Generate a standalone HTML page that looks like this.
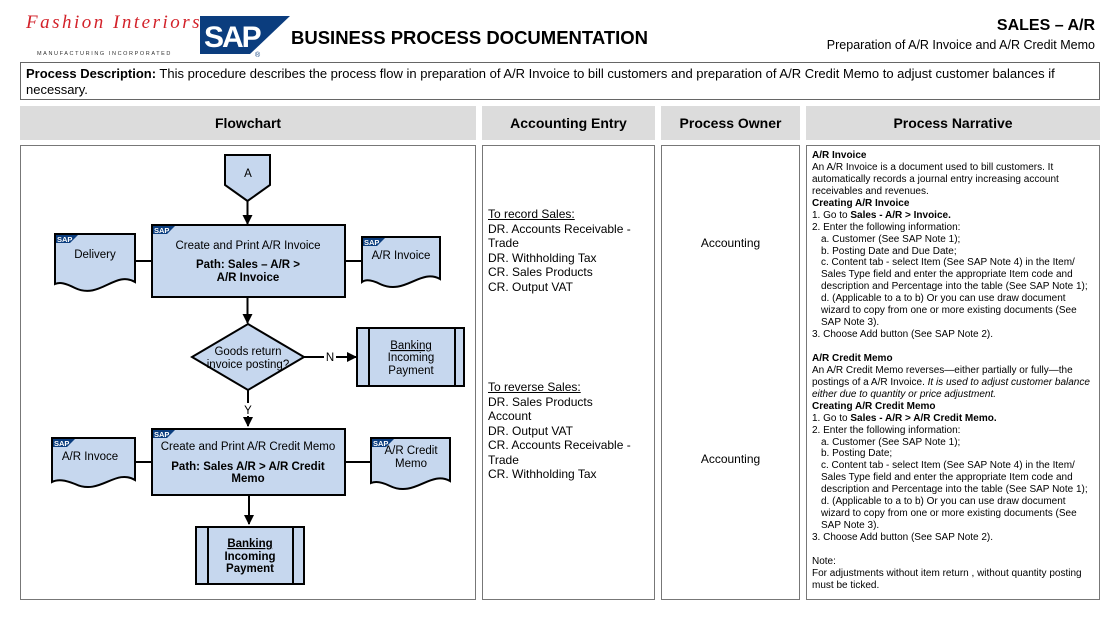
<!DOCTYPE html>
<html><head><meta charset="utf-8"><style>
body{margin:0;width:1114px;height:620px;background:#fff;position:relative;font-family:"Liberation Sans",sans-serif;overflow:hidden}
.a{position:absolute}
.hd{position:absolute;top:106px;height:34px;background:#dcdcdc;font-weight:bold;font-size:14px;text-align:center;line-height:34px;color:#000}
.bx{position:absolute;top:145px;height:455px;border:1.5px solid #777;box-sizing:border-box}
.ae{position:absolute;left:488px;font-size:12px;line-height:14.5px;white-space:nowrap}
.nr{position:absolute;left:812px;font-size:10px;line-height:11.93px;white-space:nowrap}
.nr .i{padding-left:9px}
</style></head><body>
<div class="a" style="left:26px;top:12px;width:165px;white-space:nowrap;font-family:'Liberation Serif',serif;font-style:italic;color:#d3222a;font-size:19px;letter-spacing:2.5px">Fashion Interiors</div>
<div class="a" style="left:37px;top:51px;font-size:5.5px;letter-spacing:1.6px;color:#333">MANUFACTURING INCORPORATED</div>
<svg class="a" style="left:200px;top:16px" width="92" height="42"><polygon points="0,0 90,0 50,38 0,38" fill="#0b3d7e"/><text x="4" y="31" font-family="Liberation Sans" font-weight="bold" font-size="30" fill="#fff" letter-spacing="-2">SAP</text><text x="55" y="41" font-size="7" fill="#0b3d7e">®</text></svg>
<div class="a" style="left:291px;top:27px;font-size:18.5px;font-weight:bold">BUSINESS PROCESS DOCUMENTATION</div>
<div class="a" style="right:19px;top:17px;font-size:16px;font-weight:bold">SALES – A/R</div>
<div class="a" style="right:19px;top:38px;font-size:12.5px">Preparation of A/R Invoice and A/R Credit Memo</div>
<div class="a" style="left:20px;top:62px;width:1080px;height:38px;border:1.5px solid #666;box-sizing:border-box;font-size:13px;line-height:16px;padding:3px 5px"><b>Process Description:</b> This procedure describes the process flow in preparation of A/R Invoice to bill customers and preparation of A/R Credit Memo to adjust customer balances if necessary.</div>
<div class="hd" style="left:20px;width:456px">Flowchart</div>
<div class="hd" style="left:482px;width:173px">Accounting Entry</div>
<div class="hd" style="left:661px;width:139px">Process Owner</div>
<div class="hd" style="left:806px;width:294px">Process Narrative</div>
<div class="bx" style="left:20px;width:456px"></div>
<div class="bx" style="left:482px;width:173px"></div>
<div class="bx" style="left:661px;width:139px"></div>
<div class="bx" style="left:806px;width:294px"></div>

<svg class="a" style="left:0;top:0" width="480" height="610" font-family="Liberation Sans">
<defs><marker id="ar" markerWidth="10" markerHeight="10" refX="9" refY="5" orient="auto" markerUnits="userSpaceOnUse"><path d="M0,0 L10,5 L0,10Z" fill="#000"/></marker>
<g id="sap"><polygon points="0,0 22,0 14,8 0,8" fill="#0b3d7e"/><text x="1" y="7" font-size="7.5" font-weight="bold" fill="#fff">SAP</text></g></defs>
<g stroke="#000" stroke-width="2" fill="#c6d7ee">
<polygon points="225,155 270,155 270,185 247.5,201 225,185"/>
<line x1="247.5" y1="201" x2="247.5" y2="224" marker-end="url(#ar)" fill="none"/>
<line x1="135" y1="261" x2="152" y2="261"/><line x1="345" y1="261" x2="362" y2="261"/>
<rect x="152" y="225" width="193" height="72"/>
<path d="M55,234 H135 V282 C115,270 100,300 75,288 C65,283 60,282 55,284 Z"/>
<path d="M362,237 H440 V279 C420,268 405,296 380,284 C372,280 366,279 362,282 Z"/>
<line x1="247.5" y1="297" x2="247.5" y2="323" marker-end="url(#ar)" fill="none"/>
<polygon points="248,324 304,357 248,390 192,357"/>
<line x1="304" y1="357" x2="324" y2="357" fill="none"/>
<line x1="336" y1="357" x2="356" y2="357" marker-end="url(#ar)" fill="none"/>
<rect x="357" y="328" width="107" height="58"/><line x1="369" y1="328" x2="369" y2="386"/><line x1="455" y1="328" x2="455" y2="386"/>
<line x1="248" y1="390" x2="248" y2="403" fill="none"/>
<line x1="248" y1="416" x2="248" y2="426" marker-end="url(#ar)" fill="none"/>
<line x1="135" y1="462" x2="152" y2="462"/><line x1="345" y1="462" x2="370" y2="462"/>
<rect x="152" y="429" width="193" height="66"/>
<path d="M52,438 H135 V480 C115,468 100,496 75,484 C65,480 58,479 52,482 Z"/>
<path d="M371,438 H450 V481 C430,470 415,498 390,486 C382,482 376,481 371,483 Z"/>
<line x1="249" y1="495" x2="249" y2="524" marker-end="url(#ar)" fill="none"/>
<rect x="196" y="527" width="108" height="57"/><line x1="208" y1="527" x2="208" y2="584"/><line x1="293" y1="527" x2="293" y2="584"/>
</g>
<use href="#sap" x="153" y="226"/><use href="#sap" x="56" y="235"/><use href="#sap" x="363" y="238"/>
<use href="#sap" x="153" y="430"/><use href="#sap" x="53" y="439"/><use href="#sap" x="372" y="439"/>
<g font-size="11.5" text-anchor="middle" fill="#000">
<text x="248" y="177">A</text>
<text x="248" y="249">Create and Print A/R Invoice</text>
<text x="248" y="268" font-weight="bold">Path: Sales – A/R &gt;</text>
<text x="248" y="281" font-weight="bold">A/R Invoice</text>
<text x="95" y="258">Delivery</text>
<text x="401" y="259">A/R Invoice</text>
<text x="248" y="355">Goods return</text>
<text x="248" y="368">invoice posting?</text>
<text x="330" y="361">N</text>
<text x="411" y="349" text-decoration="underline">Banking</text>
<text x="411" y="361">Incoming</text>
<text x="411" y="374">Payment</text>
<text x="248" y="414">Y</text>
<text x="248" y="450">Create and Print A/R Credit Memo</text>
<text x="248" y="470" font-weight="bold">Path: Sales A/R &gt; A/R Credit</text>
<text x="248" y="482" font-weight="bold">Memo</text>
<text x="90" y="460">A/R Invoce</text>
<text x="411" y="454">A/R Credit</text>
<text x="411" y="467">Memo</text>
<text x="250" y="547" font-weight="bold" text-decoration="underline">Banking</text>
<text x="250" y="560" font-weight="bold">Incoming</text>
<text x="250" y="572" font-weight="bold">Payment</text>
</g>
</svg>

<div class="ae" style="top:207px"><u>To record Sales:</u><br>DR. Accounts Receivable -<br>Trade<br>DR. Withholding Tax<br>CR. Sales Products<br>CR. Output VAT</div>
<div class="ae" style="top:380px"><u>To reverse Sales:</u><br>DR. Sales Products<br>Account<br>DR. Output VAT<br>CR. Accounts Receivable -<br>Trade<br>CR. Withholding Tax</div>
<div class="a" style="left:661px;width:139px;text-align:center;top:236px;font-size:12px">Accounting</div>
<div class="a" style="left:661px;width:139px;text-align:center;top:452px;font-size:12px">Accounting</div>

<div class="nr" style="top:150px"><b>A/R Invoice</b><br>An A/R Invoice is a document used to bill customers. It<br>automatically records a journal entry increasing account<br>receivables and revenues.<br><b>Creating A/R Invoice</b><br>1. Go to <b>Sales - A/R &gt; Invoice.</b><br>2. Enter the following information:<br><span class="i">a. Customer (See SAP Note 1);</span><br><span class="i">b. Posting Date and Due Date;</span><br><span class="i">c. Content tab - select Item (See SAP Note 4) in the Item/</span><br><span class="i">Sales Type field and enter the appropriate Item code and</span><br><span class="i">description and Percentage into the table (See SAP Note 1);</span><br><span class="i">d. (Applicable to a to b) Or you can use draw document</span><br><span class="i">wizard to copy from one or more existing documents (See</span><br><span class="i">SAP Note 3).</span><br>3. Choose Add button (See SAP Note 2).<br>&nbsp;<br><b>A/R Credit Memo</b><br>An A/R Credit Memo reverses—either partially or fully—the<br>postings of a A/R Invoice. <i>It is used to adjust customer balance</i><br><i>either due to quantity or price adjustment.</i><br><b>Creating A/R Credit Memo</b><br>1. Go to <b>Sales - A/R &gt; A/R Credit Memo.</b><br>2. Enter the following information:<br><span class="i">a. Customer (See SAP Note 1);</span><br><span class="i">b. Posting Date;</span><br><span class="i">c. Content tab - select Item (See SAP Note 4) in the Item/</span><br><span class="i">Sales Type field and enter the appropriate Item code and</span><br><span class="i">description and Percentage into the table (See SAP Note 1);</span><br><span class="i">d. (Applicable to a to b) Or you can use draw document</span><br><span class="i">wizard to copy from one or more existing documents (See</span><br><span class="i">SAP Note 3).</span><br>3. Choose Add button (See SAP Note 2).<br>&nbsp;<br>Note:<br>For adjustments without item return , without quantity posting<br>must be ticked.</div>
</body></html>
